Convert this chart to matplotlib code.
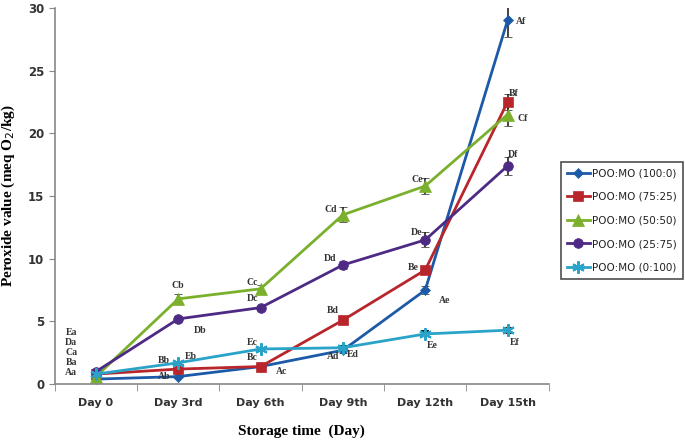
import matplotlib.pyplot as plt
from matplotlib.lines import Line2D

days = ['Day 0', 'Day 3rd', 'Day 6th', 'Day 9th', 'Day 12th', 'Day 15th']

# peroxide values per blend
poo_100 = [0.4, 0.6, 1.4, 2.7, 7.5, 29.0]
poo_75 = [0.8, 1.2, 1.4, 5.1, 9.1, 22.5]
poo_50 = [0.6, 6.8, 7.6, 13.5, 15.8, 21.5]
poo_25 = [1.0, 5.2, 6.1, 9.5, 11.5, 17.4]
poo_0 = [0.8, 1.7, 2.8, 2.9, 4.0, 4.3]

# error bars (sd)
err_100 = [0.1, 0.1, 0.1, 0.2, 0.3, 1.3]
err_75 = [0.1, 0.1, 0.1, 0.2, 0.3, 0.6]
err_50 = [0.1, 0.4, 0.3, 0.6, 0.6, 0.9]
err_25 = [0.1, 0.2, 0.2, 0.3, 0.6, 0.7]
err_0 = [0.1, 0.1, 0.1, 0.1, 0.2, 0.2]

series = [
    ('POO:MO (100:0)', poo_100, err_100, '#1C5AA8', 'D', 5),
    ('POO:MO (75:25)', poo_75, err_75, '#B8262B', 's', 7),
    ('POO:MO (50:50)', poo_50, err_50, '#7AB02C', '^', 8),
    ('POO:MO (25:75)', poo_25, err_25, '#4E2A84', 'o', 7),
    ('POO:MO (0:100)', poo_0, err_0, '#2AA3C8', (6, 2, 0), 9),
]

# significance letters (text, x position, y)
letters = [
    ('Ea', -0.3, 4.1), ('Da', -0.3, 3.3), ('Ca', -0.3, 2.5), ('Ba', -0.3, 1.7), ('Aa', -0.3, 0.9),
    ('Cb', 1.0, 7.9), ('Db', 1.27, 4.3), ('Bb', 0.83, 1.9), ('Eb', 1.15, 2.2), ('Ab', 0.83, 0.6),
    ('Cc', 1.9, 8.1), ('Dc', 1.9, 6.8), ('Ec', 1.9, 3.3), ('Bc', 1.9, 2.1), ('Ac', 2.25, 1.0),
    ('Cd', 2.85, 13.9), ('Dd', 2.85, 10.0), ('Bd', 2.88, 5.9), ('Ad', 2.88, 2.2), ('Ed', 3.12, 2.4),
    ('Ce', 3.9, 16.3), ('De', 3.9, 12.1), ('Be', 3.85, 9.3), ('Ae', 4.24, 6.7), ('Ee', 4.08, 3.1),
    ('Af', 5.16, 28.9), ('Bf', 5.07, 23.2), ('Cf', 5.18, 21.2), ('Df', 5.07, 18.3), ('Ef', 5.09, 3.3),
]

fig = plt.figure(figsize=(6.85, 4.41), dpi=100)
ax = fig.add_axes([0.080, 0.129, 0.721, 0.853])

x = list(range(len(days)))
handles = []
for label, vals, errs, color, marker, ms in series:
    mew = 1.5 if marker == (6, 2, 0) else 0.5
    ax.errorbar(x, vals, yerr=errs, color=color, marker=marker, markersize=ms,
                linewidth=2, elinewidth=1.2, ecolor='#222222', capsize=3,
                markeredgewidth=mew)
    handles.append(Line2D([], [], color=color, marker=marker, markersize=ms,
                          linewidth=2, markeredgewidth=mew, label=label))

for txt, xi, yi in letters:
    ax.text(xi, yi, txt, fontsize=7, fontweight='bold', family='Liberation Serif',
            color='#333333', ha='center', va='center')

ax.set_xlim(-0.5, 5.5)
ax.set_ylim(0, 30)
ax.set_yticks([0, 5, 10, 15, 20, 25, 30])
ax.set_xticks(x)
ax.set_xticklabels(days)
ax.set_xticks([i - 0.5 for i in range(7)], minor=True)
ax.tick_params(axis='x', which='major', length=0, pad=10, labelsize=8)
ax.tick_params(axis='x', which='minor', length=5, color='#888888')
ax.tick_params(axis='y', length=4, color='#888888', labelsize=8.5)
for lab in ax.get_xticklabels() + ax.get_yticklabels():
    lab.set_fontweight('bold')
    lab.set_color('#333333')

for s in ['top', 'right']:
    ax.spines[s].set_visible(False)
for s in ['left', 'bottom']:
    ax.spines[s].set_color('#888888')
    ax.spines[s].set_linewidth(1.2)

ax.set_ylabel('Peroxide value (meq O$_2$/kg)', family='Liberation Serif',
              fontweight='bold', fontsize=11, labelpad=8)
ax.set_xlabel('Storage time  (Day)', family='Liberation Serif',
              fontweight='bold', fontsize=11, labelpad=12)

leg = ax.legend(handles=handles, loc='upper left', bbox_to_anchor=(1.024, 0.59),
                fontsize=7.5, frameon=True, fancybox=False, edgecolor='#222222',
                handlelength=2.2, handletextpad=0.2, labelspacing=1.3,
                borderpad=0.6, borderaxespad=0)
leg.get_frame().set_linewidth(1.2)
for t in leg.get_texts():
    t.set_color('#222222')

fig.savefig('out.png', dpi=100)
